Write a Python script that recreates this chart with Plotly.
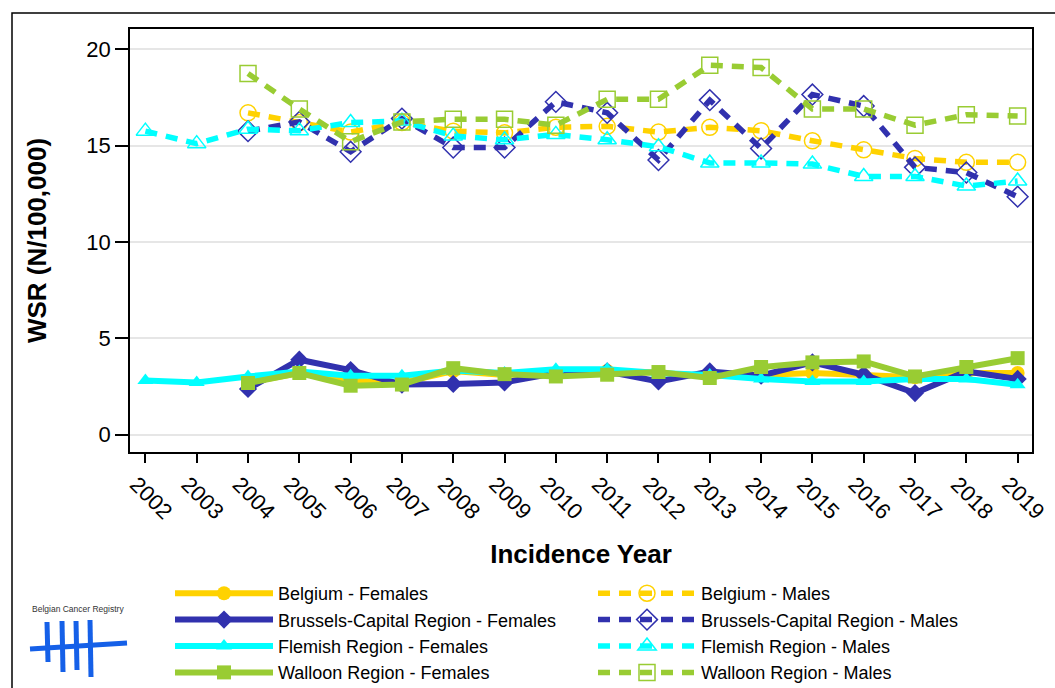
import plotly.graph_objects as go

years = list(range(2002, 2020))
years_from_2004 = list(range(2004, 2020))

# Females (solid)
belgium_f = [2.7, 3.2, 2.8, 2.7, 3.3, 3.1, 3.2, 3.3, 3.2, 3.05, 3.1, 3.2, 3.1, 2.98, 3.2, 3.2]
brussels_f = [2.37, 3.89, 3.35, 2.6, 2.63, 2.71, 3.2, 3.28, 2.76, 3.28, 3.06, 3.75, 3.11, 2.16, 3.28, 2.89]
flemish_f = [2.81, 2.71, 3.02, 3.28, 3.06, 3.06, 3.33, 3.2, 3.4, 3.4, 3.2, 3.1, 2.89, 2.76, 2.76, 2.89, 2.89, 2.59]
walloon_f = [2.68, 3.2, 2.54, 2.6, 3.45, 3.14, 3.02, 3.11, 3.25, 2.94, 3.51, 3.75, 3.8, 3.02, 3.51, 3.97]

# Males (dashed)
belgium_m = [16.7, 16.2, 15.7, 16.2, 15.75, 15.66, 15.95, 16.0, 15.7, 15.95, 15.77, 15.25, 14.78, 14.33, 14.13, 14.13]
brussels_m = [15.75, 16.23, 14.68, 16.4, 14.9, 14.9, 17.27, 16.7, 14.25, 17.36, 14.85, 17.65, 17.05, 13.87, 13.6, 12.35]
flemish_m = [15.75, 15.1, 15.85, 15.77, 16.2, 16.27, 15.5, 15.3, 15.58, 15.3, 14.94, 14.1, 14.1, 14.04, 13.4, 13.4, 12.9, 13.16]
walloon_m = [18.74, 16.9, 15.2, 16.23, 16.37, 16.37, 16.06, 17.4, 17.4, 19.17, 19.05, 16.9, 16.9, 16.06, 16.6, 16.53]

tick_labels = [str(y) for y in years]

GOLD = "#FFD200"
NAVY = "#3131AE"
CYAN = "#00FFFF"
GREEN = "#99CC33"

FONT = "Liberation Sans, Arial, sans-serif"

fig = go.Figure()

female_series = [
    ("Belgium - Females", years_from_2004, belgium_f, GOLD, "circle", 1),
    ("Brussels-Capital Region - Females", years_from_2004, brussels_f, NAVY, "diamond", 3),
    ("Flemish Region - Females", years, flemish_f, CYAN, "triangle-up", 5),
    ("Walloon Region - Females", years_from_2004, walloon_f, GREEN, "square", 7),
]
male_series = [
    ("Belgium - Males", years_from_2004, belgium_m, GOLD, "circle-open", 2),
    ("Brussels-Capital Region - Males", years_from_2004, brussels_m, NAVY, "diamond-open", 4),
    ("Flemish Region - Males", years, flemish_m, CYAN, "triangle-up-open", 6),
    ("Walloon Region - Males", years_from_2004, walloon_m, GREEN, "square-open", 8),
]

for name, xs, ys, col, sym, rank in female_series:
    fig.add_trace(go.Scatter(
        x=xs, y=ys, name=name, mode="lines+markers", legendrank=rank,
        line=dict(color=col, width=6),
        marker=dict(symbol=sym, size=14, color=col, line=dict(width=0)),
    ))

for name, xs, ys, col, sym, rank in male_series:
    fig.add_trace(go.Scatter(
        x=xs, y=ys, name=name, mode="lines+markers", legendrank=rank,
        line=dict(color=col, width=5.5, dash="12px,9px"),
        marker=dict(symbol=sym, size=16, color=col, line=dict(width=1.5, color=col)),
    ))


def px(x):
    return (x - 130) / 902


def py(y):
    return (452 - y) / 423


# Outer frame of the figure
shapes = [
    dict(type="rect", xref="paper", yref="paper",
         x0=px(12), x1=px(1070), y0=py(700), y1=py(13),
         line=dict(color="black", width=1.5), fillcolor="rgba(0,0,0,0)", layer="below"),
]

# Belgian Cancer Registry logo (tally marks)
LOGO = "#1560E8"
for x0, ytop, ybot in [(47, 622, 662), (62, 621, 672), (76, 621, 670), (90, 620, 677)]:
    shapes.append(dict(type="line", xref="paper", yref="paper",
                       x0=px(x0), x1=px(x0 + 1), y0=py(ytop), y1=py(ybot),
                       line=dict(color=LOGO, width=5)))
shapes.append(dict(type="line", xref="paper", yref="paper",
                   x0=px(30), x1=px(127), y0=py(649), y1=py(643),
                   line=dict(color=LOGO, width=5)))

ITEMW = 98
fig.update_layout(
    width=1055, height=688,
    margin=dict(l=130, r=23, t=29, b=236, autoexpand=False),
    paper_bgcolor="white", plot_bgcolor="white",
    font=dict(family=FONT, color="black", size=19),
    shapes=shapes,
    annotations=[dict(text="Belgian Cancer Registry", xref="paper", yref="paper",
                      x=px(78), y=py(609), xanchor="center", yanchor="middle",
                      showarrow=False,
                      font=dict(size=8.5, color="#333333", family=FONT))],
    showlegend=True,
    legend=dict(
        orientation="h", x=px(170), y=py(575), xanchor="left", yanchor="top",
        entrywidth=418 - (ITEMW + 10), entrywidthmode="pixels", itemwidth=ITEMW,
        font=dict(size=18, family=FONT), tracegroupgap=0,
        bgcolor="rgba(0,0,0,0)",
    ),
    xaxis=dict(
        range=[2001.7, 2019.28], tickmode="array", tickvals=years, ticktext=tick_labels,
        tickangle=45, ticks="outside", ticklen=9, tickcolor="black", tickwidth=1.5,
        showgrid=False, zeroline=False, showline=True, linecolor="black", linewidth=1.5,
        mirror=True, tickfont=dict(size=22), ticklabelshift=-9, automargin=False,
        title=dict(text="<b>Incidence Year</b>", font=dict(size=26), standoff=22),
    ),
    yaxis=dict(
        range=[-0.9, 21.05], tickvals=[0, 5, 10, 15, 20], ticks="outside", ticklen=13,
        tickcolor="black", tickwidth=1.5, showgrid=True, gridcolor="#E6E6E6", gridwidth=1.5,
        zeroline=False, showline=True, linecolor="black", linewidth=1.5, mirror=True,
        tickfont=dict(size=22), automargin=False,
        title=dict(text="<b>WSR (N/100,000)</b>", font=dict(size=26), standoff=32),
    ),
)

fig.write_html("out.html", config={"displayModeBar": False},
               post_script="document.body.style.margin='0';")
